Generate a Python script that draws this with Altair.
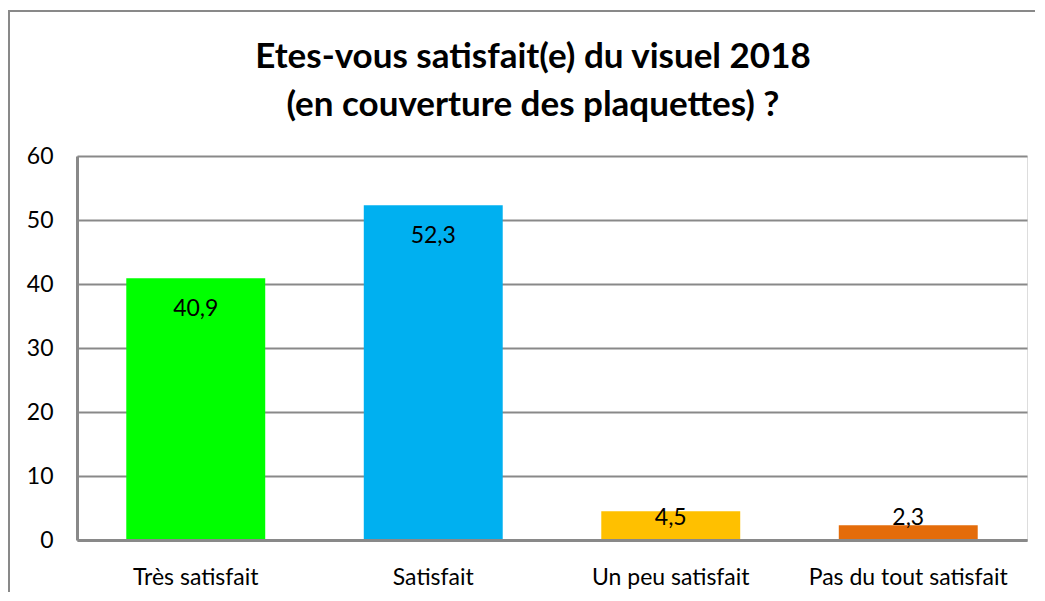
import altair as alt
import pandas as pd

categories = ["Très satisfait", "Satisfait", "Un peu satisfait", "Pas du tout satisfait"]
values = [40.9, 52.3, 4.5, 2.3]
colors = ["#00FF00", "#00B0F0", "#FFC000", "#E46C0A"]
y_ticks = [0, 10, 20, 30, 40, 50, 60]
title_lines = ["Etes-vous satisfait(e) du visuel 2018", "(en couverture des plaquettes) ?"]

df = pd.DataFrame({"cat": categories, "v": values, "color": colors})

FONT = "Lato"
GRAY = "#898989"

xenc = alt.X("cat:N", sort=categories, title=None,
             scale=alt.Scale(paddingInner=0.415, paddingOuter=0.2075),
             axis=alt.Axis(labelAngle=0, labelFontSize=23, labelFont=FONT, labelColor="#000000",
                           labelPadding=26, labelLimit=0, ticks=False, domainColor=GRAY,
                           domainWidth=3, zindex=1, grid=False))
yenc = alt.Y("v:Q", title=None,
             scale=alt.Scale(domain=[0, 60]),
             axis=alt.Axis(values=y_ticks, labelFontSize=23, labelFont=FONT, labelColor="#000000",
                           labelPadding=24, ticks=False, domainColor=GRAY, domainWidth=3,
                           gridColor=GRAY, gridWidth=2))

border = alt.Chart(pd.DataFrame({"a": [0]})).mark_rect(
    fill=None, stroke=GRAY, strokeWidth=2
).encode(x=alt.value(-68), x2=alt.value(1100), y=alt.value(-145), y2=alt.value(700))

title1 = alt.Chart(pd.DataFrame({"t": [title_lines[0]]})).mark_text(
    font=FONT, fontSize=35, fontWeight="bold", color="#000000", baseline="middle", align="center"
).encode(x=alt.value(456), y=alt.value(-99), text="t:N")
title2 = alt.Chart(pd.DataFrame({"t": [title_lines[1]]})).mark_text(
    font=FONT, fontSize=35, fontWeight="bold", color="#000000", baseline="middle", align="center"
).encode(x=alt.value(456), y=alt.value(-51), text="t:N")

bars = alt.Chart(df).mark_bar().encode(
    x=xenc, y=yenc,
    color=alt.Color("color:N", scale=None),
)

labels = alt.Chart(df).transform_calculate(
    ly="max(datum.v - 4.85, 3.4)",
    txt="replace(format(datum.v, '.1f'), '.', ',')",
).mark_text(fontSize=23, font=FONT, color="#000000", baseline="middle").encode(
    x=alt.X("cat:N", sort=categories),
    y=alt.Y("ly:Q"),
    text="txt:N",
)

chart = alt.layer(border, title1, title2, bars, labels).properties(
    width=950, height=384,
    autosize=alt.AutoSizeParams(type="none"),
    padding={"left": 69, "top": 148, "right": 8, "bottom": 52},
).configure_view(stroke=None, strokeWidth=0).configure(background="#ffffff")

chart.save("out.html", embed_options={"renderer": "svg", "actions": False})
